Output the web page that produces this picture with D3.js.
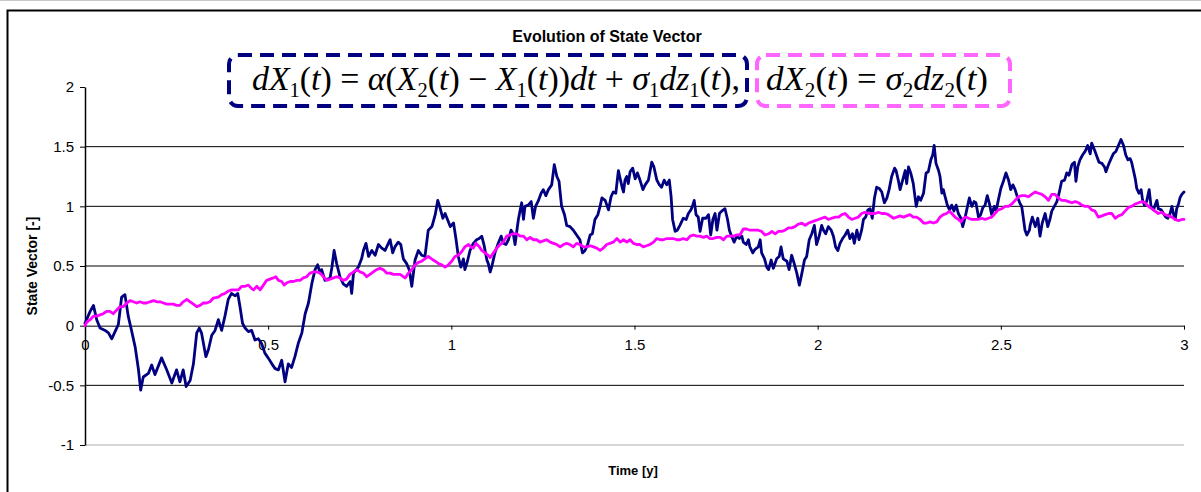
<!DOCTYPE html>
<html>
<head>
<meta charset="utf-8">
<script src="https://cdn.jsdelivr.net/npm/d3@7"></script>
<style>
  html, body { margin: 0; padding: 0; background: #fff; }
  svg { display: block; }
  text { font-family: "Liberation Sans", Arial, sans-serif; fill: #000; }
  .eq text, text.eq { font-family: "Liberation Serif", "Times New Roman", serif; }
</style>
</head>
<body>
<svg id="chart" width="1201" height="492"></svg>
<script>
// ---- data -------------------------------------------------------------
const xTicks = [0, 0.5, 1, 1.5, 2, 2.5, 3];
const yTicks = [-1, -0.5, 0, 0.5, 1, 1.5, 2];
const gridValues = [-0.5, 0.5, 1, 1.5];

const chartTitle = "Evolution of State Vector";
const xTitle = "Time [y]";
const yTitle = "State Vector [-]";

// X1(t): mean-reverting state, [time, value]
const x1Series = [
  [0,0.02],[0.014,0.12],[0.023,0.17],[0.032,0.05],[0.041,-0.02],[0.055,-0.04],[0.064,-0.06],[0.073,-0.11],
  [0.082,-0.05],[0.091,0.01],[0.100,0.24],[0.109,0.26],[0.118,0.08],[0.127,-0.04],[0.137,-0.18],[0.146,-0.37],
  [0.152,-0.54],[0.159,-0.43],[0.173,-0.40],[0.182,-0.33],[0.191,-0.41],[0.209,-0.27],[0.223,-0.37],[0.237,-0.48],
  [0.250,-0.37],[0.259,-0.47],[0.268,-0.37],[0.276,-0.51],[0.287,-0.46],[0.296,-0.32],[0.305,-0.06],[0.312,-0.02],
  [0.318,-0.06],[0.330,-0.26],[0.337,-0.20],[0.346,-0.08],[0.355,-0.04],[0.364,0.05],
  [0.373,-0.04],[0.382,0.08],[0.391,0.22],[0.400,0.27],[0.410,0.25],[0.417,0.27],[0.423,0.16],[0.430,0.02],
  [0.437,-0.02],[0.446,-0.05],[0.455,-0.04],[0.464,-0.12],[0.473,-0.11],[0.482,-0.15],[0.491,-0.23],[0.500,-0.27],
  [0.510,-0.32],[0.519,-0.36],[0.528,-0.37],[0.537,-0.29],[0.546,-0.47],[0.555,-0.32],[0.564,-0.35],[0.573,-0.26],
  [0.582,-0.15],[0.592,-0.06],[0.601,0.10],[0.610,0.19],[0.619,0.35],[0.628,0.47],[0.635,0.51],[0.642,0.44],
  [0.646,0.47],[0.655,0.38],[0.669,0.40],[0.674,0.49],[0.680,0.63],[0.687,0.52],[0.696,0.41],[0.705,0.35],
  [0.714,0.33],[0.724,0.37],[0.728,0.27],[0.733,0.44],
  [0.746,0.49],[0.755,0.56],[0.760,0.63],[0.767,0.69],[0.774,0.58],[0.783,0.63],[0.792,0.59],[0.801,0.68],
  [0.810,0.65],[0.819,0.63],[0.828,0.69],[0.833,0.72],[0.840,0.61],[0.846,0.66],[0.855,0.70],[0.862,0.68],
  [0.869,0.56],[0.878,0.52],[0.885,0.47],[0.892,0.33],[0.901,0.55],[0.910,0.63],[0.919,0.59],[0.928,0.58],
  [0.937,0.80],[0.947,0.83],[0.956,0.93],[0.963,1.05],[0.969,0.99],[0.977,0.90],[0.983,0.94],[0.992,0.87],
  [0.997,0.83],[1.006,0.86],[1.013,0.72],[1.019,0.58],[1.026,0.49],[1.033,0.56],[1.037,0.47],[1.044,0.54],
  [1.051,0.63],[1.060,0.69],[1.069,0.72],[1.076,0.73],[1.083,0.75],[1.089,0.68],[1.097,0.55],[1.101,0.52],
  [1.106,0.45],[1.110,0.49],[1.119,0.61],[1.128,0.69],[1.136,0.75],[1.142,0.69],[1.149,0.68],[1.156,0.72],
  [1.163,0.80],[1.169,0.77],[1.174,0.68],[1.179,0.80],[1.183,0.89],[1.188,0.97],[1.192,1.03],[1.197,0.89],
  [1.201,1.00],[1.210,1.01],[1.218,1.04],[1.224,0.90],[1.230,1.00],[1.238,1.05],[1.245,1.11],[1.251,1.14],
  [1.258,1.09],[1.265,1.14],[1.274,1.18],[1.281,1.35],[1.288,1.25],[1.294,1.21],[1.301,1.00],[1.309,0.93],
  [1.315,0.84],[1.324,0.83],[1.333,0.80],[1.342,0.76],[1.351,0.72],[1.358,0.61],[1.365,0.63],[1.372,0.68],
  [1.379,0.76],[1.385,0.77],[1.392,0.89],[1.400,0.93],[1.406,1.00],[1.411,1.07],[1.420,1.05],[1.429,0.97],
  [1.436,1.08],[1.442,1.12],[1.449,1.11],[1.456,1.30],[1.461,1.23],[1.467,1.15],
  [1.470,1.12],[1.474,1.22],[1.479,1.25],[1.483,1.19],[1.488,1.29],[1.495,1.32],[1.502,1.23],[1.508,1.28],
  [1.515,1.22],[1.523,1.14],[1.529,1.18],[1.538,1.22],[1.547,1.37],[1.553,1.33],[1.561,1.22],[1.568,1.18],
  [1.574,1.16],[1.581,1.22],[1.588,1.18],[1.595,1.22],[1.600,1.08],[1.604,0.89],[1.611,0.79],[1.617,0.80],
  [1.624,0.84],[1.633,0.90],[1.641,0.89],[1.647,0.94],[1.654,0.97],[1.659,1.01],[1.663,1.05],[1.668,0.93],
  [1.674,0.91],[1.679,0.79],[1.686,0.90],[1.695,0.90],[1.702,0.93],[1.708,0.76],[1.714,0.89],[1.720,0.94],
  [1.725,0.80],[1.732,0.94],[1.738,0.96],[1.747,0.98],[1.754,0.89],[1.759,0.80],[1.765,0.75],[1.772,0.70],
  [1.779,0.75],[1.786,0.73],[1.793,0.75],[1.797,0.70],[1.805,0.68],[1.811,0.72],[1.815,0.66],[1.823,0.61],
  [1.829,0.64],[1.838,0.66],
  [1.843,0.72],[1.847,0.61],[1.855,0.56],[1.861,0.49],[1.866,0.47],[1.873,0.55],[1.879,0.48],[1.888,0.56],
  [1.895,0.58],[1.900,0.66],[1.906,0.56],[1.916,0.54],[1.922,0.47],[1.929,0.59],[1.936,0.52],[1.943,0.44],
  [1.950,0.34],[1.957,0.44],[1.964,0.55],[1.970,0.58],[1.977,0.72],[1.984,0.77],[1.991,0.84],[1.997,0.68],
  [2.004,0.75],[2.011,0.84],[2.016,0.80],[2.022,0.77],[2.029,0.83],[2.037,0.80],[2.043,0.75],[2.049,0.66],
  [2.055,0.63],[2.061,0.69],[2.068,0.73],[2.075,0.76],[2.082,0.80],[2.088,0.73],[2.095,0.77],[2.100,0.69],
  [2.107,0.80],[2.113,0.72],[2.120,0.80],[2.125,0.89],[2.131,0.91],[2.137,0.97],[2.143,0.98],[2.149,0.90],
  [2.155,1.07],[2.161,1.16],[2.168,1.15],[2.175,1.12],[2.182,1.03],[2.189,1.07],[2.195,1.14],[2.202,1.25],
  [2.210,1.32],
  [2.214,1.30],[2.220,1.22],[2.225,1.14],[2.232,1.22],[2.239,1.30],[2.243,1.19],[2.248,1.33],[2.254,1.28],
  [2.261,1.19],[2.269,1.00],[2.275,1.08],[2.281,1.05],[2.289,1.11],[2.296,1.28],[2.302,1.29],[2.309,1.39],
  [2.314,1.43],[2.318,1.51],[2.323,1.36],[2.330,1.30],[2.334,1.25],[2.339,1.11],[2.343,1.14],[2.348,1.08],
  [2.354,1.01],[2.360,0.97],[2.366,1.01],[2.372,0.96],[2.378,1.01],[2.384,0.94],[2.391,0.90],[2.396,0.83],
  [2.402,0.90],[2.409,1.00],[2.414,1.07],[2.421,1.00],[2.427,1.04],[2.432,1.03],[2.439,0.91],[2.445,0.93],
  [2.451,0.99],[2.457,1.01],[2.463,1.09],[2.469,1.02],[2.475,0.93],[2.482,1.00],[2.487,0.96],[2.493,1.05],
  [2.500,1.15],[2.507,1.21],[2.514,1.28],[2.521,1.22],[2.527,1.14],[2.533,1.18],[2.539,1.14],[2.545,1.08],
  [2.553,1.02],[2.557,1.00],[2.562,0.89],[2.566,0.80],[2.571,0.76],[2.578,0.80],
  [2.580,0.84],[2.586,0.91],[2.594,0.83],[2.601,0.90],[2.607,0.75],[2.613,0.86],[2.621,0.94],[2.628,0.83],
  [2.634,0.89],[2.639,0.96],[2.646,1.00],[2.653,1.04],[2.659,1.11],[2.666,1.21],[2.674,1.22],[2.680,1.28],
  [2.686,1.26],[2.694,1.35],[2.701,1.37],[2.705,1.21],[2.710,1.33],[2.716,1.39],[2.723,1.43],[2.730,1.46],
  [2.737,1.51],[2.744,1.44],[2.748,1.53],[2.756,1.47],[2.762,1.42],[2.768,1.37],[2.776,1.36],[2.783,1.33],
  [2.787,1.29],[2.794,1.35],[2.801,1.40],[2.807,1.44],[2.814,1.46],[2.821,1.51],[2.828,1.56],[2.835,1.51],
  [2.841,1.43],[2.847,1.39],[2.853,1.40],[2.857,1.37],[2.862,1.30],[2.867,1.23],[2.871,1.15],[2.877,1.11],
  [2.883,1.14],[2.887,1.05],[2.892,1.01],[2.898,1.04],[2.905,1.14],[2.910,1.00],[2.917,0.97],[2.921,1.01],
  [2.926,1.05],[2.930,0.98],[2.938,0.97],[2.944,0.94],[2.950,0.91],[2.956,0.90],[2.962,0.94],[2.967,1.00],
  [2.971,0.94],[2.976,0.89],[2.980,0.98],[2.985,1.02],[2.989,1.07],[2.994,1.10],[3.000,1.12]
];

// X2(t): driving random walk, [time, value]
const x2Series = [
  [0,0],[0.005,0.03],[0.014,0.05],[0.023,0.08],[0.032,0.08],[0.041,0.09],[0.050,0.10],[0.059,0.12],
  [0.068,0.12],[0.077,0.10],[0.086,0.13],[0.096,0.16],[0.105,0.16],[0.114,0.19],[0.123,0.21],[0.132,0.20],
  [0.141,0.19],[0.150,0.20],[0.159,0.19],[0.168,0.19],[0.177,0.20],[0.187,0.21],[0.196,0.20],[0.205,0.20],
  [0.214,0.19],[0.223,0.18],[0.232,0.18],[0.241,0.18],[0.250,0.17],[0.259,0.17],[0.268,0.20],[0.278,0.22],
  [0.287,0.20],[0.296,0.18],[0.305,0.16],[0.314,0.17],[0.323,0.19],[0.332,0.19],[0.341,0.20],[0.350,0.23],
  [0.364,0.24],[0.373,0.26],[0.382,0.27],[0.391,0.29],[0.401,0.30],[0.410,0.30],[0.419,0.30],[0.428,0.33],
  [0.437,0.33],[0.446,0.34],[0.455,0.31],[0.460,0.30],[0.469,0.33],[0.478,0.30],[0.487,0.34],[0.496,0.38],
  [0.505,0.39],[0.514,0.40],[0.521,0.41],[0.528,0.38],[0.537,0.37],[0.544,0.34],[0.551,0.36],[0.560,0.37],
  [0.569,0.37],[0.578,0.38],[0.587,0.38],[0.596,0.40],[0.605,0.41],[0.614,0.44],[0.623,0.45],[0.633,0.45],
  [0.642,0.44],[0.651,0.41],[0.660,0.38],[0.669,0.39],[0.678,0.40],[0.687,0.41],[0.696,0.40],[0.705,0.38],
  [0.714,0.39],
  [0.723,0.43],[0.733,0.45],[0.742,0.47],[0.751,0.45],[0.760,0.44],[0.769,0.41],[0.778,0.43],[0.787,0.45],
  [0.796,0.47],[0.805,0.48],[0.814,0.47],[0.824,0.44],[0.833,0.44],[0.842,0.43],[0.851,0.43],[0.860,0.43],
  [0.869,0.41],[0.874,0.40],[0.883,0.44],[0.892,0.47],[0.901,0.51],[0.910,0.53],[0.919,0.54],[0.928,0.56],
  [0.937,0.58],[0.946,0.56],[0.956,0.54],[0.965,0.52],[0.974,0.51],[0.983,0.49],[0.992,0.51],[1.001,0.54],
  [1.010,0.58],[1.019,0.59],[1.028,0.62],[1.037,0.66],[1.047,0.68],[1.053,0.66],[1.060,0.65],[1.067,0.69],
  [1.077,0.66],[1.083,0.63],
  [1.092,0.61],[1.101,0.59],[1.106,0.57],[1.115,0.61],[1.124,0.65],[1.133,0.68],[1.142,0.70],[1.151,0.75],
  [1.160,0.76],[1.169,0.77],[1.179,0.77],[1.188,0.75],[1.197,0.75],[1.206,0.72],[1.215,0.74],[1.224,0.72],
  [1.233,0.72],[1.242,0.70],[1.251,0.71],[1.260,0.72],[1.270,0.70],[1.279,0.69],[1.288,0.68],[1.297,0.66],
  [1.306,0.68],[1.315,0.69],[1.324,0.68],[1.333,0.66],[1.342,0.69],[1.351,0.68],[1.361,0.66],[1.370,0.66],
  [1.379,0.67],[1.388,0.66],[1.397,0.65],[1.406,0.63],[1.415,0.65],[1.424,0.68],[1.433,0.69],[1.442,0.70],
  [1.452,0.73],
  [1.461,0.70],[1.470,0.72],[1.479,0.70],[1.488,0.72],[1.497,0.69],[1.506,0.68],[1.515,0.68],[1.524,0.66],
  [1.533,0.67],[1.542,0.68],[1.552,0.70],[1.561,0.73],[1.570,0.72],[1.579,0.72],[1.588,0.73],[1.597,0.73],
  [1.606,0.73],[1.615,0.72],[1.624,0.72],[1.633,0.73],[1.643,0.72],[1.652,0.75],[1.661,0.76],[1.670,0.75],
  [1.679,0.75],[1.688,0.74],[1.697,0.75],[1.706,0.73],[1.715,0.73],[1.724,0.74],[1.734,0.74],[1.743,0.72],
  [1.752,0.75],[1.761,0.75],[1.770,0.75],[1.779,0.76],[1.788,0.76],[1.797,0.81],[1.806,0.81],[1.815,0.80],
  [1.825,0.80],
  [1.838,0.80],[1.847,0.79],[1.856,0.76],[1.866,0.77],[1.875,0.79],[1.884,0.77],[1.893,0.79],[1.902,0.79],
  [1.911,0.80],[1.920,0.82],[1.929,0.82],[1.938,0.83],[1.947,0.85],[1.957,0.86],[1.966,0.84],[1.975,0.86],
  [1.984,0.87],[1.993,0.88],[2.002,0.89],[2.011,0.90],[2.020,0.91],[2.029,0.89],[2.038,0.90],[2.048,0.91],
  [2.057,0.91],[2.066,0.93],[2.075,0.94],[2.084,0.91],[2.093,0.89],[2.102,0.90],[2.111,0.91],[2.120,0.94],
  [2.129,0.95],[2.139,0.94],[2.148,0.94],[2.157,0.94],[2.166,0.95],[2.175,0.94],[2.184,0.94],[2.193,0.93],
  [2.207,0.90],[2.216,0.91],[2.225,0.92],[2.234,0.91],[2.243,0.92],[2.252,0.93],[2.261,0.91],[2.270,0.91],
  [2.280,0.89],[2.289,0.86],[2.298,0.86],[2.307,0.87],[2.316,0.86],[2.325,0.87],[2.334,0.91],[2.343,0.93],
  [2.352,0.94],[2.360,0.96],[2.366,0.94],[2.375,0.91],[2.384,0.89],[2.391,0.87],[2.398,0.90],[2.405,0.91],
  [2.412,0.90],[2.421,0.89],[2.430,0.89],[2.439,0.89],[2.448,0.90],[2.457,0.89],[2.466,0.90],[2.475,0.91],
  [2.484,0.94],[2.493,0.97],[2.503,0.98],[2.512,1.00],[2.521,1.00],[2.530,1.02],[2.539,1.05],[2.548,1.08],
  [2.557,1.09],
  [2.566,1.09],[2.575,1.08],[2.584,1.10],[2.594,1.12],[2.603,1.11],[2.612,1.10],[2.621,1.08],[2.630,1.05],
  [2.639,1.10],[2.648,1.10],[2.657,1.07],[2.666,1.05],[2.675,1.05],[2.685,1.04],[2.694,1.03],[2.703,1.04],
  [2.712,1.03],[2.721,1.01],[2.730,1.00],[2.739,1.00],[2.748,0.97],[2.757,0.96],[2.766,0.91],[2.776,0.92],
  [2.785,0.93],[2.794,0.94],[2.803,0.94],[2.812,0.90],[2.821,0.92],[2.830,0.93],[2.839,0.96],[2.848,0.99],
  [2.857,1.00],[2.867,1.02],[2.876,1.03],[2.885,1.04],[2.894,1.03],[2.903,1.00],[2.912,0.98],[2.921,0.96],
  [2.930,0.94],[2.939,0.95],[2.948,0.93],[2.958,0.92],[2.967,0.91],[2.976,0.89],[2.985,0.88],[2.994,0.89],
  [3.000,0.89]
];

// ---- layout -----------------------------------------------------------
const W = 1201, H = 492;
const plot = { left: 85, right: 1184, top: 87, bottom: 445 };
const colX1 = "#000080";
const colX2 = "#ff00ff";
const colX2Box = "#ff66ff";

const svg = d3.select("#chart");
svg.append("rect").attr("width", W).attr("height", H).attr("fill", "#fff");

const x = d3.scaleLinear().domain([0, 3]).range([plot.left, plot.right]);
const y = d3.scaleLinear().domain([-1, 2]).range([plot.bottom, plot.top]);

// chart frame
svg.append("line").attr("x1", 0).attr("x2", W).attr("y1", 0.5).attr("y2", 0.5)
  .attr("stroke", "#c8c8c8").attr("stroke-width", 1);
svg.append("path").attr("d", `M7.5,${H} V10.5 H${W}`)
  .attr("fill", "none").attr("stroke", "#000").attr("stroke-width", 2);

// horizontal gridlines
svg.append("g").selectAll("line").data(gridValues).join("line")
  .attr("x1", plot.left).attr("x2", plot.right)
  .attr("y1", d => y(d)).attr("y2", d => y(d))
  .attr("stroke", "#000").attr("stroke-width", 1);
svg.append("line")
  .attr("x1", plot.left).attr("x2", plot.right)
  .attr("y1", y(-1)).attr("y2", y(-1))
  .attr("stroke", "#c8c8c8").attr("stroke-width", 1.5);

// y axis
const yAxis = svg.append("g").attr("transform", `translate(${plot.left},0)`)
  .call(d3.axisLeft(y).tickValues(yTicks).tickFormat(d => String(d))
        .tickSize(5).tickSizeOuter(0).tickPadding(6));
yAxis.select(".domain").attr("stroke", "#000").attr("stroke-width", 1.5);
yAxis.selectAll("line").attr("stroke", "#000");
yAxis.selectAll("text").attr("font-family", "Liberation Sans, Arial, sans-serif")
  .attr("font-size", 15).attr("fill", "#000");

// x axis on the zero line
const xAxis = svg.append("g").attr("transform", `translate(0,${y(0)})`)
  .call(d3.axisBottom(x).tickValues(xTicks).tickFormat(d => String(d))
        .tickSize(4).tickSizeOuter(0).tickPadding(10));
xAxis.select(".domain").attr("stroke", "#000").attr("stroke-width", 1);
xAxis.selectAll("line").attr("stroke", "#000");
xAxis.selectAll("text").attr("font-family", "Liberation Sans, Arial, sans-serif")
  .attr("font-size", 15).attr("fill", "#000");

// series
const line = d3.line().x(d => x(d[0])).y(d => y(d[1]));
svg.append("path").datum(x1Series).attr("d", line)
  .attr("fill", "none").attr("stroke", colX1).attr("stroke-width", 2.8)
  .attr("stroke-linejoin", "round").attr("stroke-linecap", "round");
svg.append("path").datum(x2Series).attr("d", line)
  .attr("fill", "none").attr("stroke", colX2).attr("stroke-width", 2.8)
  .attr("stroke-linejoin", "round").attr("stroke-linecap", "round");

// titles
svg.append("text").attr("x", 607).attr("y", 42).attr("text-anchor", "middle")
  .attr("font-weight", "bold").attr("font-size", 16).text(chartTitle);
svg.append("text").attr("x", 633).attr("y", 475).attr("text-anchor", "middle")
  .attr("font-weight", "bold").attr("font-size", 13).text(xTitle);
svg.append("text").attr("transform", `translate(37,${(plot.top + plot.bottom) / 2}) rotate(-90)`)
  .attr("text-anchor", "middle").attr("font-weight", "bold").attr("font-size", 14).text(yTitle);

// model equations in dashed boxes
const eqParts1 = [
  ["d", "i"], ["X", "i"], ["1", "s"], ["(", "r"], ["t", "i"], [") = ", "r"], ["α", "i"], ["(", "r"],
  ["X", "i"], ["2", "s"], ["(", "r"], ["t", "i"], [") − ", "r"], ["X", "i"], ["1", "s"], ["(", "r"],
  ["t", "i"], ["))", "r"], ["dt", "i"], [" + ", "r"], ["σ", "i"], ["1", "s"], ["dz", "i"], ["1", "s"],
  ["(", "r"], ["t", "i"], ["),", "r"]
];
const eqParts2 = [
  ["d", "i"], ["X", "i"], ["2", "s"], ["(", "r"], ["t", "i"], [") = ", "r"], ["σ", "i"], ["2", "s"],
  ["dz", "i"], ["2", "s"], ["(", "r"], ["t", "i"], [")", "r"]
];

function drawEquation(parts, x0, baseline, width) {
  const t = svg.append("text").attr("class", "eq")
    .attr("x", x0).attr("y", baseline).attr("font-size", 33)
    .attr("textLength", width).attr("lengthAdjust", "spacingAndGlyphs")
    .style("white-space", "pre");
  let inSub = false;
  parts.forEach(([s, kind]) => {
    const ts = t.append("tspan").text(s);
    if (kind === "s") {
      ts.attr("font-size", 20).attr("dy", inSub ? 0 : 7);
      inSub = true;
    } else {
      if (inSub) ts.attr("dy", -7);
      inSub = false;
      if (kind === "i") ts.attr("font-style", "italic");
    }
  });
}

function dashedBox(x0, y0, w, h, color) {
  svg.append("rect").attr("x", x0).attr("y", y0).attr("width", w).attr("height", h)
    .attr("rx", 9).attr("ry", 9).attr("fill", "#fff")
    .attr("stroke", color).attr("stroke-width", 4).attr("stroke-dasharray", "14,8");
}

dashedBox(229, 55, 518, 51, colX1);
dashedBox(757, 55, 253, 51, colX2Box);
drawEquation(eqParts1, 252, 90, 488);
drawEquation(eqParts2, 766, 90, 222);
</script>
</body>
</html>
